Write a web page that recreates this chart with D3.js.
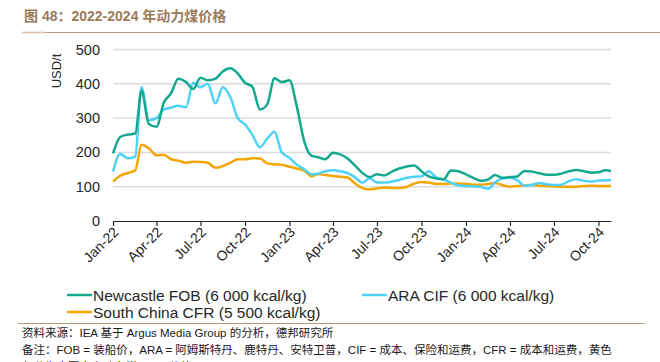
<!DOCTYPE html>
<html>
<head>
<meta charset="utf-8">
<script src="https://cdn.jsdelivr.net/npm/d3@7"></script>
<style>
  body { margin: 0; background: #fff; }
  svg { display: block; font-family: "Liberation Sans", Arial, "Noto Sans CJK SC", sans-serif; }
</style>
</head>
<body>
<svg id="chart" width="660" height="362"></svg>
<script>
// semi-monthly readings, Jan 2022 - Oct 2024
const dates = [
  "2022-01-01","2022-01-16","2022-02-01","2022-02-16","2022-03-01","2022-03-16",
  "2022-04-01","2022-04-16","2022-05-01","2022-05-16","2022-06-01","2022-06-16",
  "2022-07-01","2022-07-16","2022-08-01","2022-08-16","2022-09-01","2022-09-16",
  "2022-10-01","2022-10-16","2022-11-01","2022-11-16","2022-12-01","2022-12-16",
  "2023-01-01","2023-01-16","2023-02-01","2023-02-16","2023-03-01","2023-03-16",
  "2023-04-01","2023-04-16","2023-05-01","2023-05-16","2023-06-01","2023-06-16",
  "2023-07-01","2023-07-16","2023-08-01","2023-08-16","2023-09-01","2023-09-16",
  "2023-10-01","2023-10-16","2023-11-01","2023-11-16","2023-12-01","2023-12-16",
  "2024-01-01","2024-01-16","2024-02-01","2024-02-16","2024-03-01","2024-03-16",
  "2024-04-01","2024-04-16","2024-05-01","2024-05-16","2024-06-01","2024-06-16",
  "2024-07-01","2024-07-16","2024-08-01","2024-08-16","2024-09-01","2024-09-16",
  "2024-10-01","2024-10-16","2024-10-27"
];

const newcastle = [
  197, 245, 252, 255, 380, 283, 275, 345, 372, 415, 405, 385,
  418, 410, 415, 436, 445, 430, 403, 392, 325, 340, 416, 405,
  410, 335, 230, 190, 186, 180, 199, 194, 182, 162, 140, 128,
  136, 133, 144, 153, 159, 162, 145, 130, 124, 122, 147, 145,
  136, 126, 117, 121, 134, 126, 128, 130, 146, 144, 139, 135,
  135, 138, 145, 149, 145, 141, 142, 148, 146
];

const araCif = [
  144, 195, 183, 188, 390, 294, 300, 325, 330, 336, 332, 403,
  390, 400, 343, 390, 360, 300, 282, 252, 215, 240, 260, 200,
  184, 165, 150, 136, 138, 145, 148, 145, 140, 128, 112, 125,
  112, 112, 115, 120, 126, 129, 130, 145, 127, 121, 112, 104,
  102, 101, 99, 94, 112, 124, 126, 119, 103, 105, 111, 107,
  105, 106, 116, 122, 117, 115, 118, 119, 119
];

const southChina = [
  115, 132, 140, 148, 222, 212, 192, 193, 180, 176, 170, 173,
  172, 170, 155, 160, 170, 180, 180, 183, 182, 168, 165, 164,
  158, 153, 146, 130, 137, 134, 131, 129, 127, 110, 96, 92,
  95, 98, 96, 96, 100, 109, 114, 112, 108, 108, 109, 109,
  108, 106, 106, 108, 111, 105, 100, 102, 104, 105, 103, 102,
  101, 100, 100, 100, 102, 103, 102, 102, 102
];

const seriesNames = ["Newcastle FOB (6 000 kcal/kg)", "ARA CIF (6 000 kcal/kg)", "South China CFR (5 500 kcal/kg)"];
const seriesColors = ["#14a88f", "#4fd2f7", "#f5a500"];
const yTicks = [0, 100, 200, 300, 400, 500];

const parse = d3.timeParse("%Y-%m-%d");
const xDates = dates.map(parse);
const allSeries = [newcastle, araCif, southChina];

const svg = d3.select("#chart");

// title + rule
svg.append("text")
  .attr("x", 24).attr("y", 21)
  .attr("fill", "#9c7b5a")
  .attr("font-size", 14).attr("font-weight", "bold")
  .text("图 48：2022-2024 年动力煤价格");
svg.append("line")
  .attr("x1", 22).attr("x2", 660).attr("y1", 32.5).attr("y2", 32.5)
  .attr("stroke", "#b49a7e").attr("stroke-width", 1.2);
svg.append("line")
  .attr("x1", 22).attr("x2", 45).attr("y1", 32.5).attr("y2", 32.5)
  .attr("stroke", "#d8c3ad").attr("stroke-width", 1.6);

const x = d3.scaleTime()
  .domain([xDates[0], xDates[xDates.length - 1]])
  .range([113, 611]);

const y = d3.scaleLinear()
  .domain([0, 500])
  .range([221, 49.5]);

// grid
svg.append("g")
  .selectAll("line")
  .data(yTicks.filter(d => d > 0))
  .join("line")
  .attr("x1", 113).attr("x2", 611)
  .attr("y1", d => y(d)).attr("y2", d => y(d))
  .attr("stroke", "#dcdcdc").attr("stroke-width", 1.5);

// y labels
svg.append("g")
  .selectAll("text")
  .data(yTicks)
  .join("text")
  .attr("x", 100).attr("y", d => y(d) + 5)
  .attr("text-anchor", "end")
  .attr("font-size", 14.5).attr("fill", "#262626")
  .text(d => d);

svg.append("text")
  .attr("transform", "translate(61,71) rotate(-90)")
  .attr("text-anchor", "middle")
  .attr("font-size", 13).attr("fill", "#262626")
  .text("USD/t");

// x axis
const xAxis = d3.axisBottom(x)
  .ticks(d3.timeMonth.every(3))
  .tickFormat(d3.timeFormat("%b-%y"))
  .tickSize(5)
  .tickSizeOuter(0);

const gx = svg.append("g")
  .attr("transform", "translate(0,221)")
  .call(xAxis);
gx.select(".domain").attr("stroke", "#262626").attr("stroke-width", 1.2);
gx.selectAll(".tick line").attr("stroke", "#262626").attr("stroke-width", 1.2);
gx.selectAll(".tick text")
  .attr("font-size", 14).attr("fill", "#262626")
  .attr("font-family", "Liberation Sans, Arial, sans-serif")
  .attr("text-anchor", "end")
  .attr("dy", 0).attr("y", 0)
  .attr("transform", "translate(6,12) rotate(-45)");

// lines (newcastle drawn last so it sits on top)
const line = d3.line()
  .x((d, i) => x(xDates[i]))
  .y(d => y(d))
  .curve(d3.curveMonotoneX);

[2, 1, 0].forEach(k => {
  svg.append("path")
    .datum(allSeries[k])
    .attr("fill", "none")
    .attr("stroke", seriesColors[k])
    .attr("stroke-width", 2.5)
    .attr("stroke-linejoin", "round")
    .attr("d", line);
});

// legend
const legendPos = [[67, 295], [362, 295], [67, 312]];
const legend = svg.append("g");
seriesNames.forEach((name, k) => {
  const [lx, ly] = legendPos[k];
  legend.append("line")
    .attr("x1", lx).attr("x2", lx + 25)
    .attr("y1", ly).attr("y2", ly)
    .attr("stroke", seriesColors[k]).attr("stroke-width", 2.5);
  legend.append("text")
    .attr("x", lx + 26).attr("y", ly + 5.5)
    .attr("font-size", 15.5).attr("fill", "#262626")
    .text(name);
});

// footer
svg.append("line")
  .attr("x1", 18).attr("x2", 645).attr("y1", 323.5).attr("y2", 323.5)
  .attr("stroke", "#b49a7e").attr("stroke-width", 1);

const footer = [
  "资料来源：IEA 基于 Argus Media Group 的分析，德邦研究所",
  "备注：FOB = 装船价，ARA = 阿姆斯特丹、鹿特丹、安特卫普，CIF = 成本、保险和运费，CFR = 成本和运费，黄色",
  "部分为中国南方动力煤 5500 价格"
];
svg.append("g")
  .selectAll("text")
  .data(footer)
  .join("text")
  .attr("x", 22).attr("y", (d, i) => 337 + i * 17)
  .attr("font-size", 11.5).attr("fill", "#1a1a1a")
  .attr("font-family", "Liberation Sans, Arial, 'Noto Sans CJK SC', sans-serif")
  .text(d => d);
</script>
</body>
</html>
